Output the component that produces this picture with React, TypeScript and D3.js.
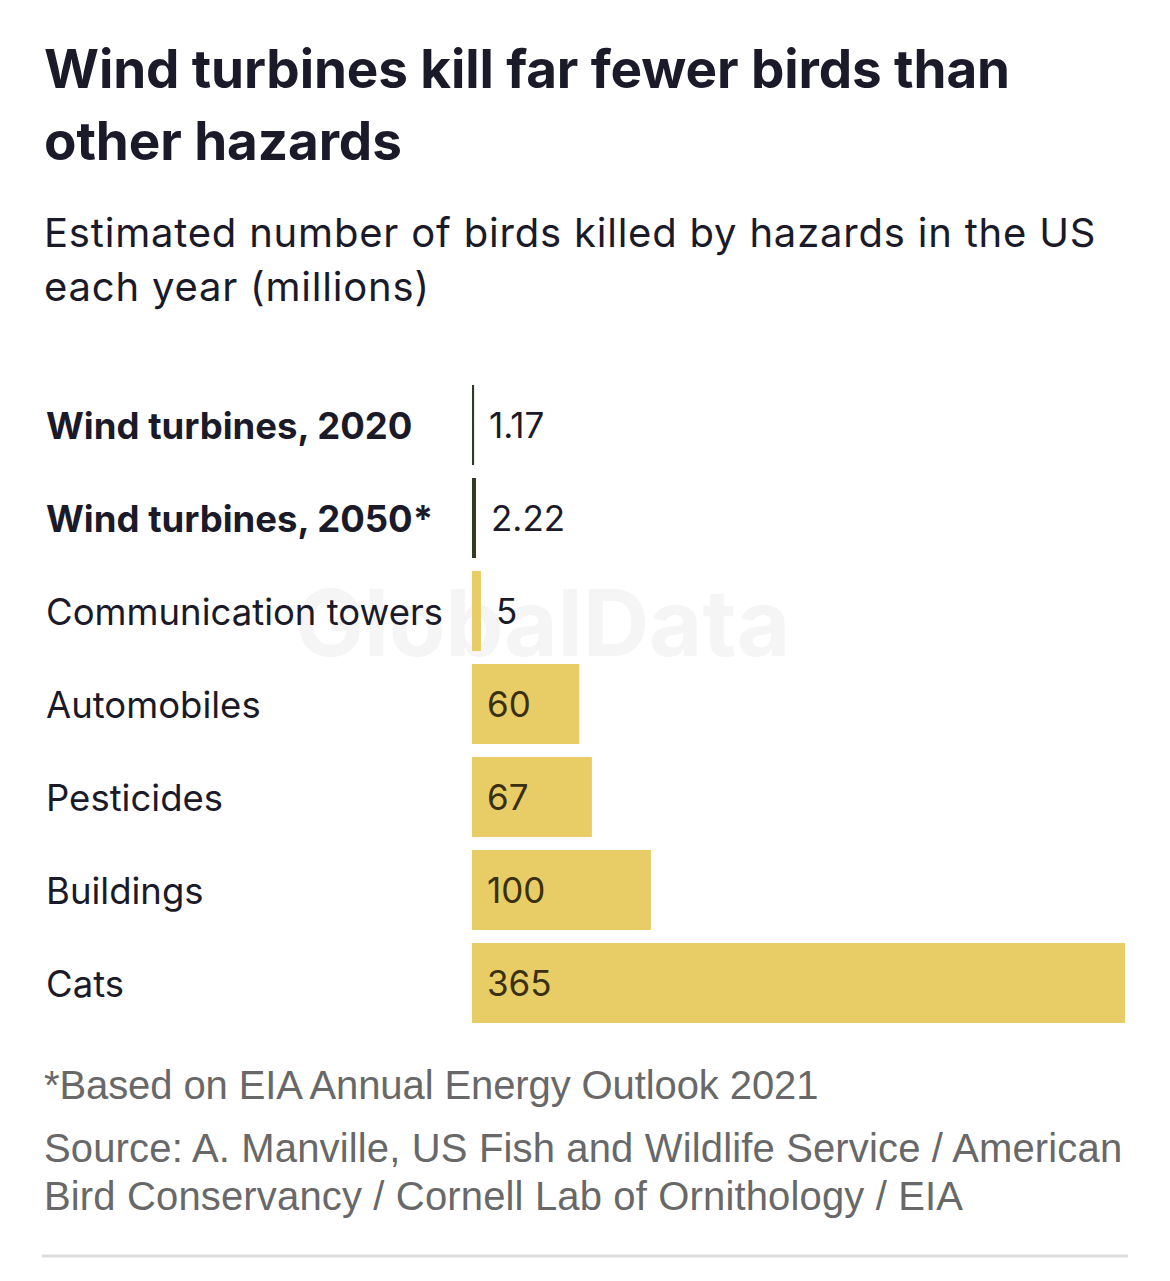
import React from "react";
import * as d3 from "d3";

// Hazards and estimated annual bird deaths in the US (millions)
const categories = [
  "Wind turbines, 2020",
  "Wind turbines, 2050*",
  "Communication towers",
  "Automobiles",
  "Pesticides",
  "Buildings",
  "Cats",
];
const values = [1.17, 2.22, 5, 60, 67, 100, 365];
const valueLabels = ["1.17", "2.22", "5", "60", "67", "100", "365"];
const highlighted = [true, true, false, false, false, false, false];

const titleLines = ["Wind turbines kill far fewer birds than", "other hazards"];
const subtitleLines = [
  "Estimated number of birds killed by hazards in the US",
  "each year (millions)",
];
const footnote = "*Based on EIA Annual Energy Outlook 2021";
const sourceLines = [
  "Source: A. Manville, US Fish and Wildlife Service / American",
  "Bird Conservancy / Cornell Lab of Ornithology / EIA",
];

const WIDTH = 1170;
const HEIGHT = 1281;
const SANS = "Inter, 'Noto Sans', sans-serif";
const HELV = "'Liberation Sans', Arial, sans-serif";
const INK = "#1b1a28";
const GREY = "#686868";
const YELLOW = "#e8cd67";
const GREEN = "#2f3b22";

export default function App() {
  const x = d3.scaleLinear().domain([0, 365]).range([472, 1125]);
  const y = d3
    .scaleBand<string>()
    .domain(categories)
    .range([385, 1023])
    .paddingInner(13 / 93)
    .paddingOuter(0);
  const bw = y.bandwidth();

  return (
    <svg
      width={WIDTH}
      height={HEIGHT}
      viewBox={`0 0 ${WIDTH} ${HEIGHT}`}
      style={{ position: "absolute", left: 0, top: 0, display: "block", background: "#fff" }}
    >
      <rect width={WIDTH} height={HEIGHT} fill="#fff" />

      {titleLines.map((t, i) => (
        <text
          key={t}
          x={44}
          y={88 + i * 72}
          fontFamily={SANS}
          fontWeight={700}
          fontSize={53}
          letterSpacing={-0.1}
          fill={INK}
        >
          {t}
        </text>
      ))}

      {subtitleLines.map((t, i) => (
        <text
          key={t}
          x={44}
          y={247 + i * 54}
          fontFamily={SANS}
          fontSize={40}
          letterSpacing={0.8}
          fill={INK}
        >
          {t}
        </text>
      ))}

      {/* faint watermark */}
      <text
        x={295}
        y={656}
        fontFamily={SANS}
        fontWeight={700}
        fontSize={92}
        fill="#f5f5f5"
      >
        GlobalData
      </text>

      {categories.map((c, i) => {
        const y0 = y(c) as number;
        const w = x(values[i]) - x(0);
        const labelX = w < 40 ? x(values[i]) + 15 : x(0) + 15;
        return (
          <g key={c}>
            <text
              x={46}
              y={y0 + bw / 2 + 14}
              fontFamily={SANS}
              fontWeight={highlighted[i] ? 700 : 400}
              fontSize={36.5}
              fill={INK}
            >
              {c}
            </text>
            <rect
              x={x(0)}
              y={y0}
              width={Math.max(w, 2)}
              height={bw}
              fill={highlighted[i] ? GREEN : YELLOW}
            />
            <text
              x={labelX}
              y={y0 + bw / 2 + 13}
              fontFamily={SANS}
              fontSize={35}
              fill={highlighted[i] || w < 40 ? INK : "#3a3010"}
            >
              {valueLabels[i]}
            </text>
          </g>
        );
      })}

      <text x={44} y={1099} fontFamily={HELV} fontSize={40} letterSpacing={-0.1} fill={GREY}>
        {footnote}
      </text>
      {sourceLines.map((t, i) => (
        <text key={t} x={44} y={1162 + i * 48} fontFamily={HELV} fontSize={40} letterSpacing={0.15} fill={GREY}>
          {t}
        </text>
      ))}

      <line x1={42} x2={1128} y1={1256} y2={1256} stroke="#dcdcdc" strokeWidth={3} />
    </svg>
  );
}
